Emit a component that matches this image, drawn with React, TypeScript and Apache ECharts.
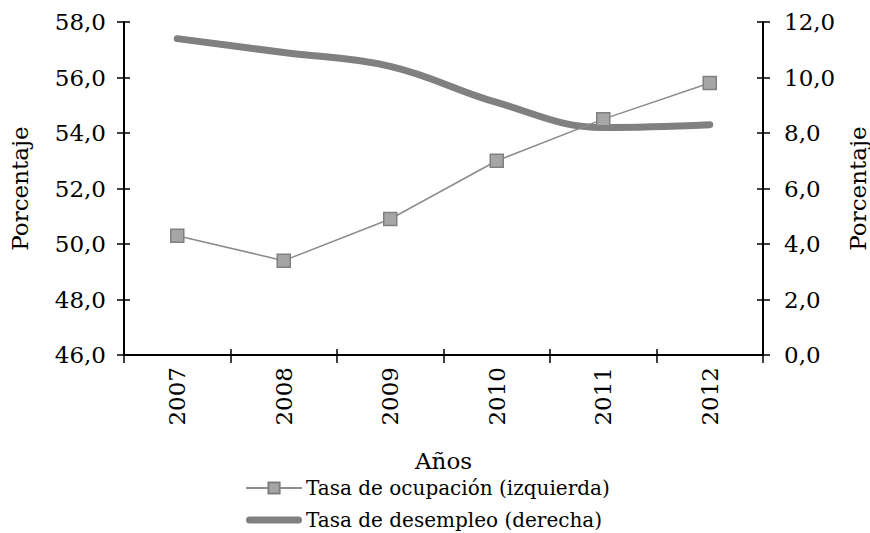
import React, { useEffect, useRef } from "react";
import * as echarts from "echarts";

const years = ["2007", "2008", "2009", "2010", "2011", "2012"];
const ocupacion = [50.3, 49.4, 50.9, 53.0, 54.5, 55.8];
const desempleo = [11.4, 10.9, 10.4, 9.1, 8.2, 8.3];
const leftName = "Porcentaje";
const rightName = "Porcentaje";
const xName = "Años";
const serieOcupacion = "Tasa de ocupación (izquierda)";
const serieDesempleo = "Tasa de desempleo (derecha)";

const FONT = "DejaVu Serif";
const fmt = (v: number) => v.toFixed(1).replace(".", ",");

export default function App() {
  const ref = useRef<HTMLDivElement>(null);
  useEffect(() => {
    if (!ref.current) return;
    const chart = echarts.init(ref.current, undefined, { renderer: "svg" });
    const axisLine = { show: true, lineStyle: { color: "#000", width: 2 } };
    const tickStyle = { color: "#000", width: 1.5 };
    const labelStyle = { fontFamily: FONT, fontSize: 23, color: "#000" };
    const nameStyle = { fontFamily: FONT, fontSize: 23, color: "#000" };
    chart.setOption({
      animation: false,
      textStyle: { fontFamily: FONT },
      grid: {
        left: 124,
        right: 107,
        top: 22,
        bottom: 178,
        containLabel: false,
        outerBoundsMode: "none",
      },
      legend: {
        orient: "vertical",
        left: 245,
        top: 478,
        width: 500,
        height: 100,
        padding: 0,
        itemGap: 12,
        itemWidth: 56,
        itemHeight: 14,
        textStyle: { fontFamily: FONT, fontSize: 20, color: "#000", padding: [0, 0, 0, -1] },
        data: [
          { name: serieOcupacion },
          {
            name: serieDesempleo,
            icon: "path://M3.5,0 L52.5,0 A3.5,3.5 0 0 1 52.5,7 L3.5,7 A3.5,3.5 0 0 1 3.5,0 Z",
            itemStyle: { color: "#808080" },
          },
        ],
      },
      xAxis: [
        {
          type: "category",
          data: years,
          boundaryGap: true,
          position: "bottom",
          axisLine,
          axisTick: { show: true, length: 8, lineStyle: tickStyle },
          axisLabel: { ...labelStyle, rotate: 90, margin: 12 },
          name: xName,
          nameLocation: "middle",
          nameGap: 94,
          nameTextStyle: nameStyle,
        },
        {
          type: "category",
          data: years,
          boundaryGap: true,
          position: "bottom",
          axisLine: { show: false },
          axisTick: { show: true, inside: true, length: 6, lineStyle: tickStyle },
          axisLabel: { show: false },
        },
      ],
      yAxis: [
        {
          type: "value",
          min: 46,
          max: 58,
          interval: 2,
          position: "left",
          axisLine,
          axisTick: { show: true, length: 7, lineStyle: tickStyle },
          axisLabel: { ...labelStyle, margin: 18, formatter: fmt },
          splitLine: { show: false },
          name: leftName,
          nameLocation: "middle",
          nameGap: 93,
          nameTextStyle: nameStyle,
        },
        {
          type: "value",
          min: 0,
          max: 12,
          interval: 2,
          position: "right",
          axisLine,
          axisTick: { show: true, length: 7, lineStyle: tickStyle },
          axisLabel: { ...labelStyle, margin: 21, formatter: fmt },
          splitLine: { show: false },
          name: rightName,
          nameLocation: "middle",
          nameGap: 83,
          nameTextStyle: nameStyle,
        },
        {
          type: "value",
          min: 46,
          max: 58,
          interval: 2,
          position: "left",
          axisLine: { show: false },
          axisTick: { show: true, inside: true, length: 6, lineStyle: tickStyle },
          axisLabel: { show: false },
          splitLine: { show: false },
        },
        {
          type: "value",
          min: 0,
          max: 12,
          interval: 2,
          position: "right",
          axisLine: { show: false },
          axisTick: { show: true, inside: true, length: 6, lineStyle: tickStyle },
          axisLabel: { show: false },
          splitLine: { show: false },
        },
      ],
      series: [
        {
          name: serieDesempleo,
          type: "line",
          yAxisIndex: 1,
          data: desempleo,
          smooth: 0.4,
          symbol: "none",
          lineStyle: { color: "#808080", width: 7, cap: "round" },
          itemStyle: { color: "#808080" },
          z: 2,
        },
        {
          name: serieOcupacion,
          type: "line",
          yAxisIndex: 0,
          data: ocupacion,
          symbol: "rect",
          symbolSize: 13,
          lineStyle: { color: "#8c8c8c", width: 1.5 },
          itemStyle: { color: "#a6a6a6", borderColor: "#808080", borderWidth: 1.5 },
          z: 3,
        },
      ],
    });
    return () => chart.dispose();
  }, []);
  return <div ref={ref} style={{ width: 870, height: 533, position: "absolute", left: 0, top: 0 }} />;
}
